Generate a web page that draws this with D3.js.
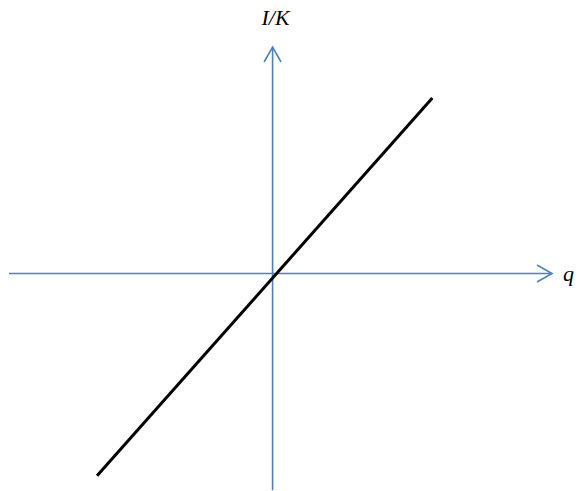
<!DOCTYPE html>
<html>
<head>
<meta charset="utf-8">
<script src="https://cdn.jsdelivr.net/npm/d3@7/dist/d3.min.js"></script>
<style>
  html, body { margin: 0; padding: 0; background: #fff; }
  svg { display: block; }
  .lbl { font-family: "Liberation Serif", "Times New Roman", serif; font-style: italic; font-size: 22px; fill: #000; }
</style>
</head>
<body>
<script>
// Axis extents (data units), origin at 0
const xAxisExtent = [-10, 10.6];
const yAxisExtent = [-8.22, 8.6];
// Investment line I/K as a function of q
const lineQ = [-6.66, 6.06];
const lineIK = [-7.68, 6.66];
// Axis labels
const xLabel = "q";
const yLabel = "I/K";

const W = 578, H = 491;
const svg = d3.select("body").append("svg").attr("width", W).attr("height", H);

const x = d3.scaleLinear().domain(xAxisExtent).range([9, 552]);
const y = d3.scaleLinear().domain(yAxisExtent).range([490, 47]);

const axisColor = "#4f81bd";
const ax = 15, aw = 8.5;

// horizontal axis
svg.append("line")
  .attr("x1", x(xAxisExtent[0])).attr("x2", x(xAxisExtent[1]))
  .attr("y1", y(0)).attr("y2", y(0))
  .attr("stroke", axisColor).attr("stroke-width", 1.6);
const xe = x(xAxisExtent[1]), y0 = y(0);
svg.append("path")
  .attr("d", `M${xe - ax},${y0 - aw}L${xe},${y0}L${xe - ax},${y0 + aw}`)
  .attr("fill", "none").attr("stroke", axisColor).attr("stroke-width", 1.6);

// vertical axis
svg.append("line")
  .attr("x1", x(0)).attr("x2", x(0))
  .attr("y1", y(yAxisExtent[0])).attr("y2", y(yAxisExtent[1]))
  .attr("stroke", axisColor).attr("stroke-width", 1.6);
const x0 = x(0), ye = y(yAxisExtent[1]);
svg.append("path")
  .attr("d", `M${x0 - aw},${ye + ax}L${x0},${ye}L${x0 + aw},${ye + ax}`)
  .attr("fill", "none").attr("stroke", axisColor).attr("stroke-width", 1.6);

// the line
const pts = lineQ.map((q, i) => [q, lineIK[i]]);
svg.append("path")
  .datum(pts)
  .attr("d", d3.line().x(d => x(d[0])).y(d => y(d[1])))
  .attr("fill", "none").attr("stroke", "#000").attr("stroke-width", 3);

// labels
svg.append("text").attr("class", "lbl")
  .attr("x", x0 + 3).attr("y", 25).attr("text-anchor", "middle").text(yLabel);
svg.append("text").attr("class", "lbl")
  .attr("x", xe + 11).attr("y", y0 + 7).text(xLabel);
</script>
</body>
</html>
